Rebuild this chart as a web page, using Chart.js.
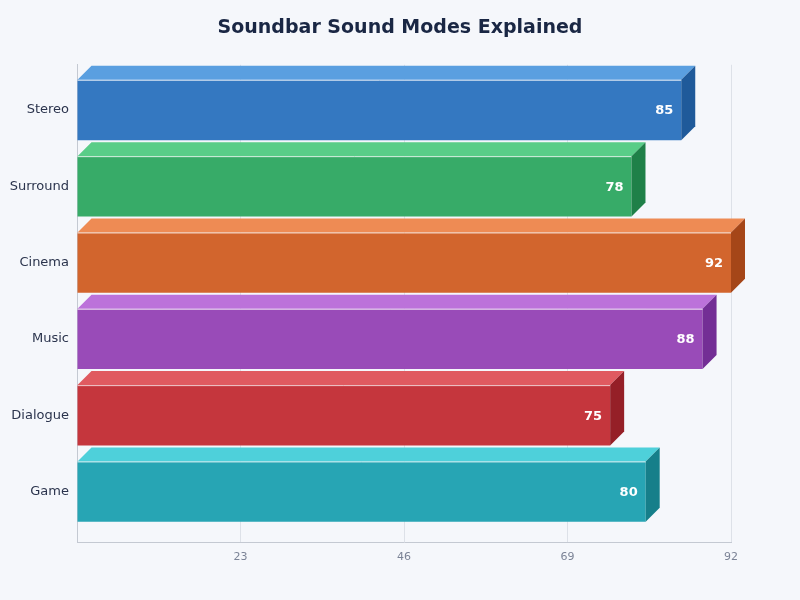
<!DOCTYPE html>
<html>
<head>
<meta charset="utf-8">
<script src="https://cdn.jsdelivr.net/npm/chart.js@4.4.1/dist/chart.umd.min.js"></script>
<style>
  html, body { margin: 0; padding: 0; background: #f5f7fb; }
  #wrap { width: 800px; height: 600px; }
</style>
</head>
<body>
<div id="wrap"><canvas id="chart-modes"></canvas></div>
<script>
const modeLabels = ["Stereo", "Surround", "Cinema", "Music", "Dialogue", "Game"];
const modeScores = [85, 78, 92, 88, 75, 80];
const xTicks = [23, 46, 69, 92];

const frontColors = ["#3478c1", "#37ab68", "#d2652d", "#994bb8", "#c5363d", "#27a5b4"];
const topColors = ["#5a9fe0", "#59cd88", "#ee8b54", "#bc72da", "#e05a60", "#4ed0da"];
const sideColors = ["#1f5a9a", "#1f8048", "#a54618", "#732e95", "#951f27", "#167f8a"];

const depth = 14;

// draws the top and side faces plus the value text
const bar3d = {
  id: "bar3d",
  afterDatasetsDraw(chart) {
    const c = chart.ctx;
    const meta = chart.getDatasetMeta(0);
    meta.data.forEach((bar, i) => {
      const top = bar.y - bar.height / 2;
      const bottom = bar.y + bar.height / 2;
      const left = bar.base;
      const right = bar.x;

      c.save();
      c.fillStyle = topColors[i];
      c.beginPath();
      c.moveTo(left, top);
      c.lineTo(left + depth, top - depth);
      c.lineTo(right + depth, top - depth);
      c.lineTo(right, top);
      c.closePath();
      c.fill();

      c.fillStyle = sideColors[i];
      c.beginPath();
      c.moveTo(right, top);
      c.lineTo(right + depth, top - depth);
      c.lineTo(right + depth, bottom - depth);
      c.lineTo(right, bottom);
      c.closePath();
      c.fill();

      c.strokeStyle = "rgba(255,255,255,0.75)";
      c.lineWidth = 1;
      c.beginPath();
      c.moveTo(left, top + 0.5);
      c.lineTo(right, top + 0.5);
      c.stroke();

      c.fillStyle = "#ffffff";
      c.font = "bold 13px 'DejaVu Sans', sans-serif";
      c.textAlign = "right";
      c.textBaseline = "middle";
      c.fillText(modeScores[i], right - 8, bar.y + 1);
      c.restore();
    });
  },
};

const chartData = {
  labels: modeLabels,
  datasets: [
    {
      label: "Score",
      data: modeScores,
      backgroundColor: frontColors,
      borderWidth: 0,
      barPercentage: 0.79,
      categoryPercentage: 1,
    },
  ],
};

const config = {
  type: "bar",
  data: chartData,
  options: {
    indexAxis: "y",
    responsive: true,
    maintainAspectRatio: false,
    animation: false,
    layout: {
      padding: { left: 10, right: 10, top: 0, bottom: 28 },
    },
    scales: {
      x: {
        min: 0,
        max: 92,
        afterBuildTicks: (axis) => {
          axis.ticks = [{ value: 0 }].concat(xTicks.map((v) => ({ value: v })));
        },
        ticks: {
          callback: (v) => (v === 0 ? "" : v),
          color: "#7b8396",
          font: { family: "'DejaVu Sans', sans-serif", size: 11 },
          padding: 8,
          maxRotation: 0,
        },
        grid: { color: "#dde1e8", drawTicks: false },
        border: { color: "#c4c9d2" },
      },
      y: {
        afterFit: (axis) => {
          axis.width = 67;
        },
        afterBuildTicks: (axis) => {
          // spread the rows the way the reference does
          axis._startValue = -0.592;
          axis._valueRange = 6.263;
        },
        ticks: {
          color: "#2b344d",
          font: { family: "'DejaVu Sans', sans-serif", size: 13 },
          padding: 8,
        },
        grid: { display: false, drawTicks: false },
        border: { color: "#c4c9d2" },
      },
      // empty axis on the right, only keeps the margin
      yRight: {
        type: "category",
        position: "right",
        labels: modeLabels,
        afterFit: (axis) => {
          axis.width = 59;
        },
        ticks: { display: false },
        grid: { display: false, drawTicks: false },
        border: { display: false },
      },
    },
    plugins: {
      legend: { display: false },
      tooltip: { enabled: false },
      title: {
        display: true,
        text: "Soundbar Sound Modes Explained",
        color: "#1a2744",
        font: { family: "'DejaVu Sans', sans-serif", size: 19, weight: "bold" },
        padding: { top: 17, bottom: 25 },
      },
    },
  },
  plugins: [bar3d],
};

const ctx = document.getElementById("chart-modes");
let chart = new Chart(ctx, config);
</script>
</body>
</html>
